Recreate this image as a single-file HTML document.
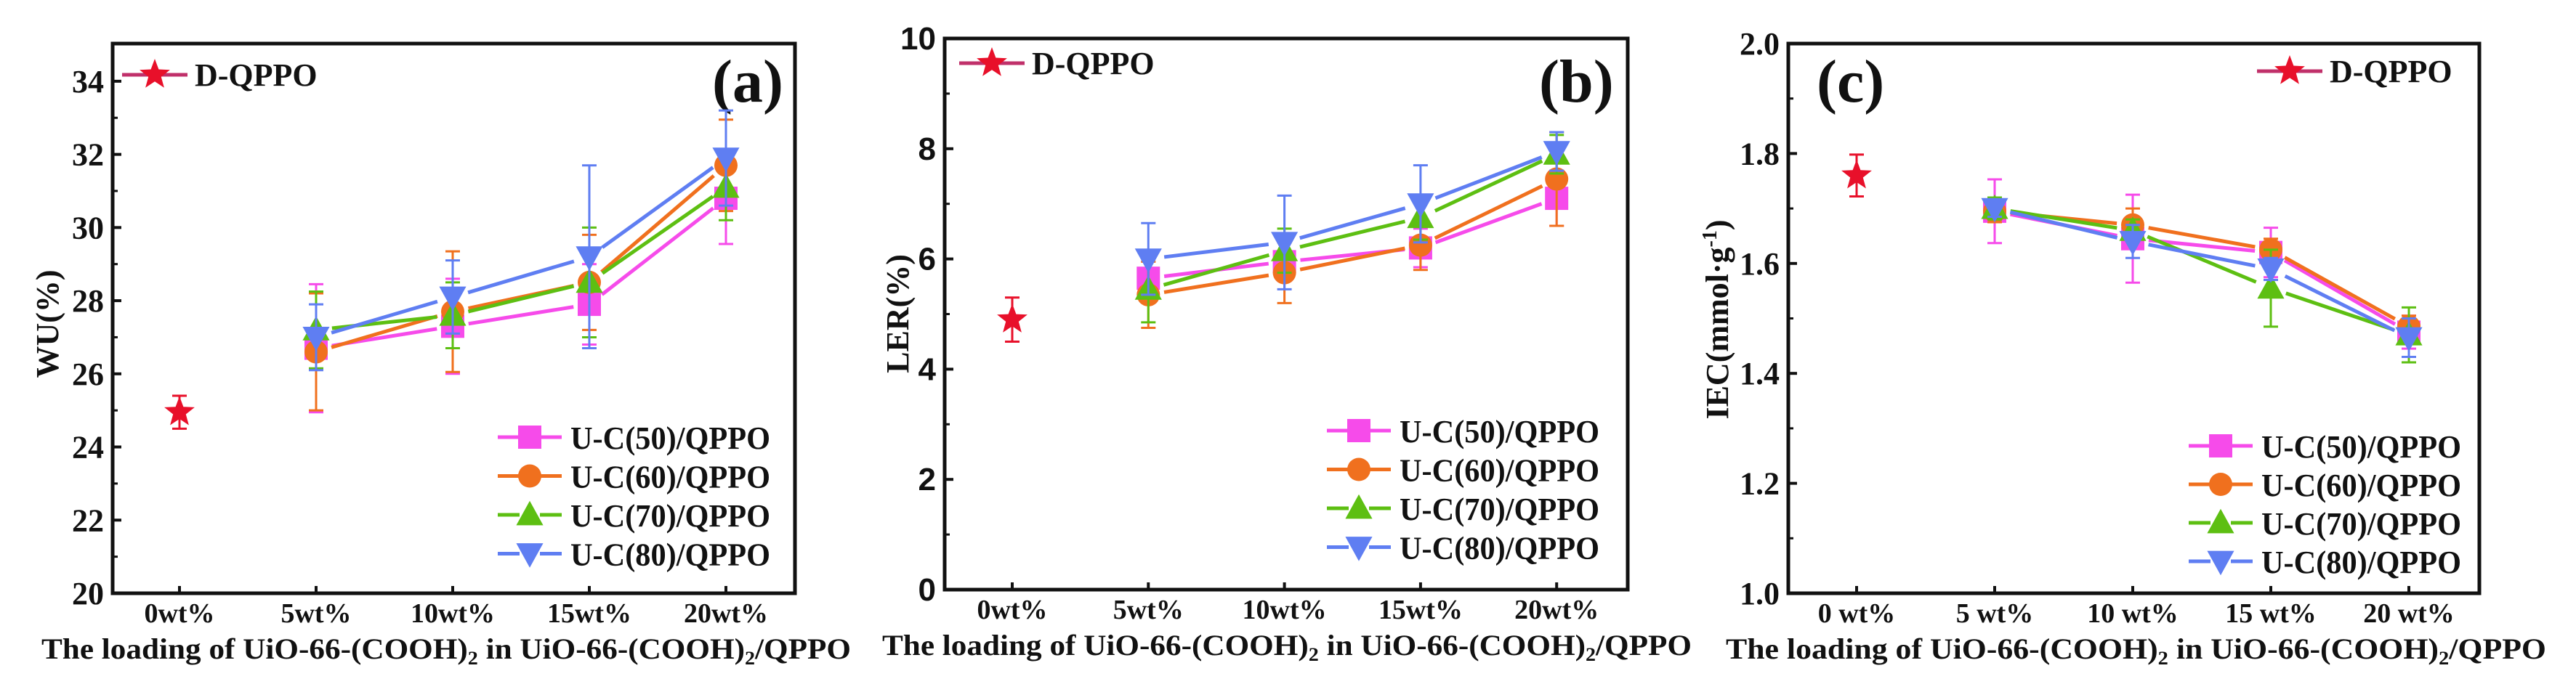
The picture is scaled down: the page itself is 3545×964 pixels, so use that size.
<!DOCTYPE html>
<html><head><meta charset="utf-8">
<style>
html,body{margin:0;padding:0;background:#fff;}
svg{display:block;}
text{font-family:"Liberation Serif",serif;font-weight:bold;fill:#111;}
</style></head>
<body>
<svg id="fig" width="3545" height="964" viewBox="0 0 3545 964" xmlns="http://www.w3.org/2000/svg"></svg>
<script>
// ---------- data ----------
const seriesNames = ["U-C(50)/QPPO","U-C(60)/QPPO","U-C(70)/QPPO","U-C(80)/QPPO"];
const categoriesA = ["0wt%","5wt%","10wt%","15wt%","20wt%"];
const categoriesC = ["0 wt%","5 wt%","10 wt%","15 wt%","20 wt%"];
// panel a: water uptake
const wuD = 24.95, wuDErr = 0.45;
const wuU50 = [26.7, 27.3, 27.9, 30.8];
const wuU60 = [26.6, 27.7, 28.5, 31.7];
const wuU70 = [27.2, 27.6, 28.5, 31.1];
const wuU80 = [27.0, 28.1, 29.2, 31.9];
const wuErr50 = [1.75, 1.3, 1.1, 1.25];
const wuErr60 = [1.6, 1.65, 1.3, 1.25];
const wuErr70 = [1.05, 0.9, 1.5, 0.9];
const wuErr80 = [0.9, 1.0, 2.5, 1.3];
const wuTicks = [20,22,24,26,28,30,32,34];
// panel b: LER
const lerD = 4.9, lerDErr = 0.4;
const lerU50 = [5.65, 5.95, 6.2, 7.1];
const lerU60 = [5.35, 5.75, 6.25, 7.45];
const lerU70 = [5.45, 6.15, 6.75, 7.9];
const lerU80 = [6.0, 6.3, 7.0, 7.95];
const lerErr50 = [0.4, 0.35, 0.35, 0.5];
const lerErr60 = [0.6, 0.55, 0.45, 0.85];
const lerErr70 = [0.6, 0.4, 0.4, 0.35];
const lerErr80 = [0.65, 0.85, 0.7, 0.35];
const lerTicks = [0,2,4,6,8,10];
// panel c: IEC
const iecD = 1.76, iecDErr = 0.038;
const iecU50 = [1.695, 1.645, 1.62, 1.475];
const iecU60 = [1.695, 1.67, 1.625, 1.485];
const iecU70 = [1.70, 1.66, 1.555, 1.47];
const iecU80 = [1.70, 1.64, 1.59, 1.465];
const iecErr50 = [0.058, 0.08, 0.045, 0.03];
const iecErr60 = [0.02, 0.03, 0.02, 0.02];
const iecErr70 = [0.02, 0.02, 0.07, 0.05];
const iecErr80 = [0.015, 0.03, 0.02, 0.035];
const iecTicks = [1.0,1.2,1.4,1.6,1.8,2.0];

const colors = ["#f64bea","#f0701e","#5dbf12","#5f7ef2"];
const starColor = "#e8102a";
const NS = "http://www.w3.org/2000/svg";
const svg = document.getElementById("fig");

function mk(tag, attrs, parent, txt){
  const e = document.createElementNS(NS, tag);
  for (const k in attrs) e.setAttribute(k, attrs[k]);
  if (txt !== undefined) e.textContent = txt;
  (parent || svg).appendChild(e);
  return e;
}
function starPath(cx, cy, r){
  let d = "";
  for (let i = 0; i < 10; i++){
    const rr = i % 2 ? r * 0.42 : r;
    const a = -Math.PI/2 + i * Math.PI/5;
    d += (i ? "L" : "M") + (cx + rr*Math.cos(a)).toFixed(1) + "," + (cy + rr*Math.sin(a)).toFixed(1);
  }
  return d + "Z";
}
function marker(g, k, x, y, s){
  let m;
  if (k === 0) m = mk("rect",{x:x-s/2,y:y-s/2,width:s,height:s,fill:colors[0]},g);
  else if (k === 1) m = mk("circle",{cx:x,cy:y,r:s/2,fill:colors[1]},g);
  else if (k === 2) m = mk("path",{d:`M${x},${y-s*0.6}L${x+s*0.58},${y+s*0.45}L${x-s*0.58},${y+s*0.45}Z`,fill:colors[2]},g);
  else m = mk("path",{d:`M${x},${y+s*0.6}L${x+s*0.58},${y-s*0.45}L${x-s*0.58},${y-s*0.45}Z`,fill:colors[3]},g);
  
  
  return m;
}

function panel(c){
  const g = mk("g",{});
  const xs = i => c.x0 + i * c.dx;
  const ys = v => c.bottom - (v - c.ymin) / (c.ymax - c.ymin) * (c.bottom - c.top);
  mk("rect",{x:c.left,y:c.top,width:c.right-c.left,height:c.bottom-c.top,fill:"none",stroke:"#111","stroke-width":5,},g);
  const yt = mk("g",{},g);
  c.ticks.forEach((t,i)=>{
    const y = ys(t);
    mk("line",{x1:c.left,x2:c.left+12,y1:y,y2:y,stroke:"#111","stroke-width":4},yt);
    if (i < c.ticks.length-1){
      const ym = ys((t + c.ticks[i+1]) / 2);
      mk("line",{x1:c.left,x2:c.left+7,y1:ym,y2:ym,stroke:"#111","stroke-width":3},yt);
    }
    const lbl = mk("text",{x:c.left-12,y:y+15,"text-anchor":"end","font-size":44,style:c.sansY?'font-family:"Liberation Sans",sans-serif':""},yt, c.fmt(t));
    
    
  });
  const xt = mk("g",{},g);
  c.cats.forEach((t,i)=>{
    const x = xs(i);
    mk("line",{x1:x,x2:x,y1:c.bottom,y2:c.bottom-10,stroke:"#111","stroke-width":4},xt);
    const lbl = mk("text",{x:x,y:c.bottom+40,"text-anchor":"middle","font-size":38},xt,t);
    
    
  });
  const tt = mk("text",{x:c.tx0,y:c.bottom+90,"font-size":40,textLength:c.tx1-c.tx0,lengthAdjust:"spacingAndGlyphs",},g);
  tt.innerHTML = 'The loading of  UiO-66-(COOH)<tspan font-size="26" dy="8">2</tspan><tspan dy="-8"> in UiO-66-(COOH)</tspan><tspan font-size="26" dy="8">2</tspan><tspan dy="-8">/QPPO</tspan>';
  const yT = mk("text",{x:0,y:0,"text-anchor":"middle","font-size":44,transform:`translate(${c.ytx},${c.yty}) rotate(-90)`,},g);
  yT.innerHTML = c.ytitle;
  mk("text",{x:c.lx,y:c.ly,"font-size":84,},g,c.letter);
  const sg = mk("g",{},g);
  c.series.forEach((vals,k)=>{
    const s = mk("g",{},sg);
    for (let i = 0; i < vals.length-1; i++){
      const x1 = xs(i+1), y1 = ys(vals[i]), x2 = xs(i+2), y2 = ys(vals[i+1]);
      const L = Math.hypot(x2-x1,y2-y1), gap = 22;
      const ux = (x2-x1)/L, uy = (y2-y1)/L;
      const ln = mk("line",{x1:x1+ux*gap,y1:y1+uy*gap,x2:x2-ux*gap,y2:y2-uy*gap,stroke:colors[k],"stroke-width":5},s);
      
      
    }
    vals.forEach((v,i)=>{
      const x = xs(i+1), e = c.errs[k][i];
      const eb = mk("path",{d:`M${x},${ys(v-e)}V${ys(v+e)}M${x-10},${ys(v-e)}H${x+10}M${x-10},${ys(v+e)}H${x+10}`,stroke:colors[k],"stroke-width":3,fill:"none"},s);
      
      
    });
    vals.forEach((v,i)=>{ marker(s,k,xs(i+1),ys(v),32); });
  });
  const dg = mk("g",{},sg);
  const dx = xs(0);
  mk("path",{d:`M${dx},${ys(c.d-c.dErr)}V${ys(c.d+c.dErr)}M${dx-10},${ys(c.d-c.dErr)}H${dx+10}M${dx-10},${ys(c.d+c.dErr)}H${dx+10}`,stroke:starColor,"stroke-width":3,fill:"none",},dg);
  mk("path",{d:starPath(dx,ys(c.d),22),fill:starColor,},dg);
  const lg = mk("g",{},g);
  mk("line",{x1:c.dl[0],x2:c.dl[0]+90,y1:c.dl[1],y2:c.dl[1],stroke:"#c0306a","stroke-width":5,"stroke-dasharray":"38,14"},lg);
  mk("path",{d:starPath(c.dl[0]+45,c.dl[1],22),fill:starColor},lg);
  mk("text",{x:c.dl[0]+100,y:c.dl[1]+15,"font-size":44},lg,"D-QPPO");
  seriesNames.forEach((n,k)=>{
    const y = c.leg[1] + k*c.legDy;
    const le = mk("g",{},g);
    mk("line",{x1:c.leg[0],x2:c.leg[0]+88,y1:y,y2:y,stroke:colors[k],"stroke-width":5,"stroke-dasharray":"30,28"},le);
    marker(le,k,c.leg[0]+44,y,32);
    mk("text",{x:c.leg[0]+100,y:y+16,"font-size":44,textLength:275,lengthAdjust:"spacingAndGlyphs"},le,n);
  });
}

panel({name:"panel-a-water-uptake",left:155,right:1094,top:60,bottom:817,ymin:20,ymax:35.03,
  x0:247,dx:188,ticks:wuTicks,fmt:t=>String(t),cats:categoriesA,tx0:57,tx1:1171,
  ytitle:"WU(%)",ytx:80,yty:446,letter:"(a)",lx:980,ly:140,
  series:[wuU50,wuU60,wuU70,wuU80],errs:[wuErr50,wuErr60,wuErr70,wuErr80],d:wuD,dErr:wuDErr,
  dl:[168,103],leg:[685,602],legDy:53.5});
panel({name:"panel-b-ler",left:1300,right:2240,top:53,bottom:812,ymin:0,ymax:10,sansY:true,
  x0:1393,dx:187.3,ticks:lerTicks,fmt:t=>String(t),cats:categoriesA,tx0:1214,tx1:2328,
  ytitle:"LER(%)",ytx:1250,yty:432,letter:"(b)",lx:2118,ly:140,
  series:[lerU50,lerU60,lerU70,lerU80],errs:[lerErr50,lerErr60,lerErr70,lerErr80],d:lerD,dErr:lerDErr,
  dl:[1320,87],leg:[1826,593],legDy:53.5});
panel({name:"panel-c-iec",left:2461,right:3412,top:60,bottom:817,ymin:1.0,ymax:2.0,
  x0:2555,dx:190,ticks:iecTicks,fmt:t=>t.toFixed(1),cats:categoriesC,tx0:2375,tx1:3504,
  ytitle:'IEC(mmol·g<tspan font-size="28" dy="-16">-1</tspan><tspan dy="16">)</tspan>',ytx:2378,yty:440,letter:"(c)",lx:2500,ly:140,
  series:[iecU50,iecU60,iecU70,iecU80],errs:[iecErr50,iecErr60,iecErr70,iecErr80],d:iecD,dErr:iecDErr,
  dl:[3106,98],leg:[3012,614],legDy:53});
</script>
</body></html>
